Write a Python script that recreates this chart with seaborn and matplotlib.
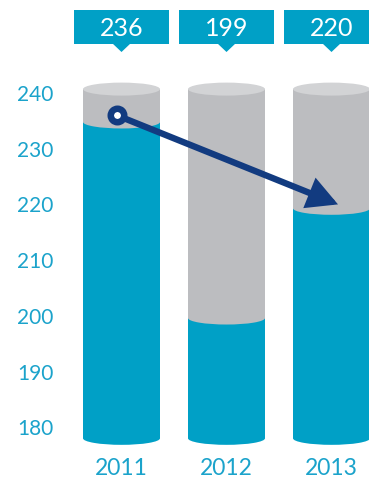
import matplotlib
matplotlib.use("Agg")
import matplotlib.pyplot as plt
import seaborn as sns
import numpy as np
import pandas as pd
from matplotlib.patches import Ellipse, Polygon, FancyArrowPatch, Rectangle

# ---- data ----
years = ["2011", "2012", "2013"]
labels = [236, 199, 220]            # values in the callout boxes
fill_levels = [234.8, 199.6, 219.3]  # blue fill level read from the cylinders
cyl_top = 240.7                      # top of the grey cylinders
cyl_bottom = 178.0                   # bottom of the cylinders
yticks = [180, 190, 200, 210, 220, 230, 240]
arrow_from = 236
arrow_to = 220

BLUE = "#00A0C6"
GREY = "#BCBDC0"
GREY_TOP = "#D2D3D5"
NAVY = "#123B80"
TEXT = "#1BA3CB"

sns.set_theme(style="white")
plt.rcParams["font.family"] = ["Lato", "DejaVu Sans"]

W, H = 369, 479
fig = plt.figure(figsize=(W / 100, H / 100), dpi=100)
left_px, right_px, top_px, bot_px = 70, 369, 60, 450
ax = fig.add_axes([left_px / W, 1 - bot_px / H, (right_px - left_px) / W, (bot_px - top_px) / H])

px_per_unit = 5.57   # px per y unit
y0_px = 93.0         # pixel row of 240
xc0_px, dx_px = 121.5, 105.0

def ypx(v):
    return 240 + (y0_px - v) / px_per_unit

bar_w = 77 / dx_px
ell_h = 13 / px_per_unit

df = pd.DataFrame({"year": years, "fill": fill_levels,
                   "total": [cyl_top] * len(years)})

sns.barplot(data=df, x="year", y=df["total"] - cyl_bottom, bottom=cyl_bottom,
            color=GREY, saturation=1, width=bar_w, ax=ax, zorder=1, linewidth=0)
sns.barplot(data=df, x="year", y=df["fill"] - cyl_bottom, bottom=cyl_bottom,
            color=BLUE, saturation=1, width=bar_w, ax=ax, zorder=2, linewidth=0)

for i, f in enumerate(fill_levels):
    ax.add_patch(Ellipse((i, cyl_top), bar_w, ell_h, facecolor=GREY_TOP,
                         edgecolor="none", zorder=3))
    ax.add_patch(Ellipse((i, f), bar_w, ell_h, facecolor=GREY,
                         edgecolor="none", zorder=3))
    ax.add_patch(Ellipse((i, cyl_bottom), bar_w, ell_h, facecolor=BLUE,
                         edgecolor="none", zorder=3))

# arrow
x_start = (116.7 - xc0_px) / dx_px
x_end = (338 - xc0_px) / dx_px
arr = FancyArrowPatch((x_start, arrow_from), (x_end, arrow_to),
                      arrowstyle="-|>,head_length=0.75,head_width=0.4",
                      mutation_scale=20, color=NAVY, linewidth=4.6,
                      shrinkA=0, shrinkB=0, zorder=5, joinstyle="miter")
ax.add_patch(arr)
ax.plot([x_start], [arrow_from], marker="o", markersize=9.7,
        markerfacecolor="white", markeredgecolor=NAVY, markeredgewidth=4.7,
        zorder=6)

# callout boxes
box_w = 95 / dx_px
box_top, box_bot, tip = ypx(10), ypx(44), ypx(52)
tri_hw = 8.5 / dx_px
for i, lab in enumerate(labels):
    ax.add_patch(Rectangle((i - box_w / 2, box_bot), box_w, box_top - box_bot,
                           facecolor=BLUE, edgecolor="none", clip_on=False,
                           zorder=4))
    ax.add_patch(Polygon([(i - tri_hw, box_bot + 0.01), (i + tri_hw, box_bot + 0.01),
                          (i, tip)], closed=True, facecolor=BLUE,
                         edgecolor="none", clip_on=False, zorder=4))
    ax.text(i, (box_top + box_bot) / 2 - 0.2, str(lab), ha="center", va="center",
            color="white", fontsize=18, fontweight="normal", zorder=5,
            clip_on=False)

ax.set_xlim((left_px - xc0_px) / dx_px, (right_px - xc0_px) / dx_px)
ax.set_ylim(ypx(bot_px), ypx(top_px))
ax.set_yticks(yticks)
ax.set_yticklabels([str(t) for t in yticks])
ax.tick_params(axis="y", length=0, pad=12, labelsize=15, labelcolor=TEXT)
ax.tick_params(axis="x", length=0, pad=6, labelsize=16.5, labelcolor=TEXT)
for t in ax.get_xticklabels() + ax.get_yticklabels():
    t.set_fontweight("normal")
ax.set_xlabel("")
ax.set_ylabel("")
for s in ax.spines.values():
    s.set_visible(False)
ax.grid(False)
ax.set_facecolor("white")

fig.savefig("out.png", dpi=100, facecolor="white")
